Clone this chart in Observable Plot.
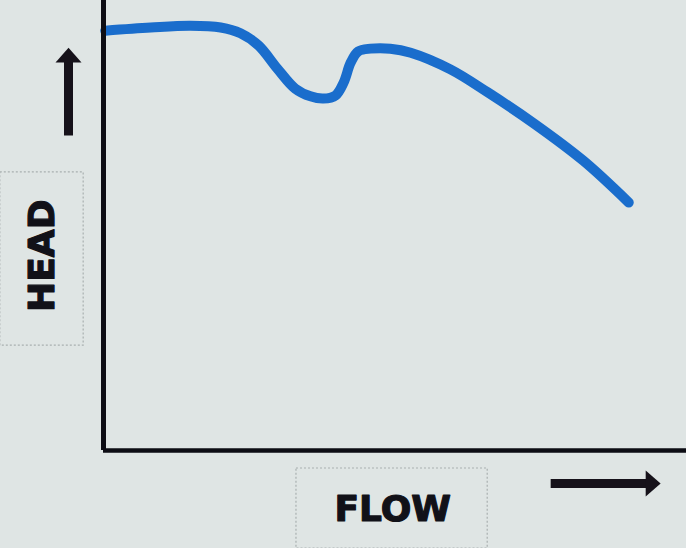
<!DOCTYPE html>
<html>
<head>
<meta charset="utf-8">
<script src="https://cdn.jsdelivr.net/npm/d3@7"></script>
<script src="https://cdn.jsdelivr.net/npm/@observablehq/plot@0.6"></script>
<style>
  html, body { margin: 0; padding: 0; background: #dfe5e4; }
  #chart svg { display: block; background: #dfe5e4; }
</style>
</head>
<body>
<div id="chart"></div>
<script>
// Pump curve: flow (x) vs head (y), arbitrary units 0..100
const flow = [0.3, 8.1, 14.9, 20.1, 23.5, 26.6, 29.8, 32.9, 35.5, 37.7, 39.8, 41.2, 42.4, 43.7, 45.8, 49.2, 52.7, 59.5, 65.9, 73.8, 82.3, 90.1];
const head = [93.3, 94.0, 94.4, 94.0, 92.7, 90.0, 84.9, 80.4, 78.7, 78.2, 78.9, 81.8, 86.2, 88.7, 89.3, 89.3, 88.4, 84.7, 79.6, 72.7, 64.4, 55.1];

const axisLabels = [
  {text: "HEAD", x: -10.4, y: 43.3, rotate: -90},
  {text: "FLOW", x: 49.6, y: -13.0, rotate: 0}
];
const labelBoxes = [
  {x1: -17.7, x2: -3.4, y1: 23.3, y2: 61.8},
  {x1: 33.1, x2: 65.9, y1: -21.8, y2: -4.0}
];
// arrow shafts and heads (data units)
const arrowShafts = [
  {x1: -6.0, y1: 70.0, x2: -6.0, y2: 86.6},
  {x1: 76.7, y1: -7.33, x2: 93.3, y2: -7.33}
];
const arrowHeads = [
  {x: -6.0, y: 86.2, rotate: 0},
  {x: 93.0, y: -7.33, rotate: 90}
];

const curve = flow.map((f, i) => ({flow: f, head: head[i]}));

const wideTriangle = {
  draw(ctx, size) {
    const r = Math.sqrt(size / Math.PI);
    ctx.moveTo(0, -1.15 * r);
    ctx.lineTo(r, 0);
    ctx.lineTo(-r, 0);
    ctx.closePath();
  }
};

const chart = Plot.plot({
  width: 686,
  height: 548,
  marginLeft: 103,
  marginRight: 0,
  marginTop: 0,
  marginBottom: 98,
  x: {domain: [0, 100], axis: null},
  y: {domain: [0, 100], axis: null},
  style: {background: "#dfe5e4", overflow: "visible"},
  marks: [
    Plot.rect(labelBoxes, {x1: "x1", x2: "x2", y1: "y1", y2: "y2", fill: "none", stroke: "#a9b0b0", strokeWidth: 1.2, strokeDasharray: "2,2", clip: false}),
    Plot.line(curve, {x: "flow", y: "head", curve: "catmull-rom", stroke: "#1a6dcc", strokeWidth: 10, strokeLinecap: "round", strokeLinejoin: "round"}),
    Plot.ruleX([0], {stroke: "#0d0d14", strokeWidth: 5}),
    Plot.ruleY([0], {stroke: "#0d0d14", strokeWidth: 4.5}),
    Plot.link(arrowShafts, {x1: "x1", y1: "y1", x2: "x2", y2: "y2", stroke: "#16121a", strokeWidth: 9, clip: false}),
    Plot.dot(arrowHeads, {x: "x", y: "y", rotate: "rotate", symbol: wideTriangle, r: 13, fill: "#16121a", stroke: "none", clip: false}),
    Plot.text(axisLabels, {x: "x", y: "y", text: "text", rotate: "rotate", fontSize: 36, fontWeight: "bold", fontFamily: "DejaVu Sans", fill: "#111118", stroke: "#111118", strokeWidth: 1.2, textAnchor: "middle", lineAnchor: "middle", clip: false, letterSpacing: "-2px"})
  ]
});
document.getElementById("chart").appendChild(chart);
</script>
</body>
</html>
